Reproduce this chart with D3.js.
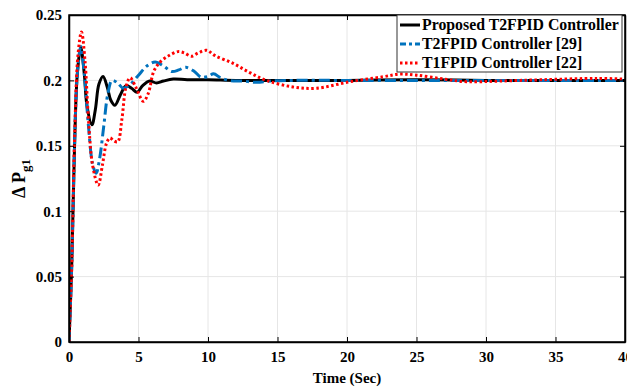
<!DOCTYPE html>
<html><head><meta charset="utf-8">
<script src="https://cdn.jsdelivr.net/npm/d3@7/dist/d3.min.js"></script>
<style>body{margin:0;background:#fff}svg{display:block}</style>
</head><body><svg id="c" width="627" height="387"></svg>
<script>
const xTicks=[0,5,10,15,20,25,30,35,40];
const yTicks=[0,0.05,0.1,0.15,0.2,0.25];
const yTickLabels=["0","0.05","0.1","0.15","0.2","0.25"];
const seriesNames=["Proposed T2FPID Controller","T2FPID Controller [29]","T1FPID Controller [22]"];
const proposedT=[0,0.2,0.4,0.6,0.85,1.1,1.3,1.65,1.9,2.15,2.45,2.75,3.0,3.3,3.7,4.1,4.5,4.9,5.3,5.8,6.3,6.8,7.5,8.5,10,12,15,20,25,30,35,40];
const proposedV=[0,0.06,0.15,0.205,0.225,0.205,0.18,0.166,0.178,0.197,0.203,0.195,0.185,0.181,0.189,0.196,0.194,0.191,0.196,0.1995,0.198,0.1995,0.201,0.2005,0.2005,0.2,0.2,0.2,0.2005,0.2,0.2,0.2];
const t2T=[0,0.2,0.4,0.6,0.85,1.1,1.4,1.7,1.95,2.2,2.5,2.8,3.1,3.5,3.9,4.4,5.0,5.6,6.2,6.8,7.4,7.9,8.4,9.0,9.5,10.0,10.4,10.9,11.5,12.5,13.5,14.5,16,20,25,30,35,40];
const t2V=[0,0.06,0.15,0.205,0.226,0.205,0.165,0.136,0.129,0.14,0.165,0.19,0.2,0.198,0.194,0.197,0.204,0.211,0.214,0.211,0.2068,0.208,0.21,0.207,0.2025,0.203,0.205,0.202,0.2,0.1995,0.1985,0.1995,0.2,0.2,0.2,0.2,0.2,0.2];
const t1T=[0,0.2,0.4,0.65,0.9,1.15,1.4,1.7,2.1,2.4,2.7,2.95,3.2,3.5,3.8,4.1,4.4,4.8,5.35,5.7,6.1,6.55,7.2,7.85,8.3,8.8,9.3,9.9,10.5,11.8,13,14.2,16.1,17.8,20.2,22.6,23.8,25,27,28.6,31,34,38,40];
const t1V=[0,0.06,0.155,0.22,0.237,0.215,0.17,0.135,0.12,0.135,0.152,0.156,0.154,0.153,0.17,0.195,0.202,0.195,0.184,0.19,0.207,0.214,0.219,0.222,0.221,0.2185,0.221,0.223,0.219,0.213,0.206,0.2,0.195,0.194,0.199,0.2028,0.2048,0.204,0.201,0.199,0.1995,0.2005,0.2015,0.201];

const FONT='"Liberation Serif", "Times New Roman", Times, serif';
const svg=d3.select("#c");
const L=69,R=625,T=15,B=342;
const x=d3.scaleLinear().domain([0,40]).range([L,R]);
const y=d3.scaleLinear().domain([0,0.25]).range([B,T]);
// grid
svg.append("g").selectAll("line").data(xTicks).join("line")
 .attr("x1",d=>x(d)).attr("x2",d=>x(d)).attr("y1",T).attr("y2",B).attr("stroke","#e6e6e6").attr("stroke-width",1);
svg.append("g").selectAll("line").data(yTicks).join("line")
 .attr("y1",d=>y(d)).attr("y2",d=>y(d)).attr("x1",L).attr("x2",R).attr("stroke","#e6e6e6").attr("stroke-width",1);
// lines
svg.append("clipPath").attr("id","cp").append("rect").attr("x",L).attr("y",T-5).attr("width",R-L).attr("height",B-T+5);
const line=d3.line().x(d=>x(d[0])).y(d=>y(d[1])).curve(d3.curveCatmullRom.alpha(0.5));
const zip=(a,b)=>a.map((v,i)=>[v,b[i]]);
const styles=[{c:"#000000",d:null},{c:"#0072BD",d:"11,4,3,4"},{c:"#FF0000",d:"2.5,2.5"}];
const data=[zip(proposedT,proposedV),zip(t2T,t2V),zip(t1T,t1V)];
const g=svg.append("g").attr("clip-path","url(#cp)");
[0,1,2].forEach(i=>{
 g.append("path").attr("d",line(data[i])).attr("fill","none").attr("stroke",styles[i].c).attr("stroke-width",3)
  .attr("stroke-dasharray",styles[i].d);
});
// box & ticks
svg.append("rect").attr("x",L).attr("y",T).attr("width",R-L).attr("height",B-T).attr("fill","none").attr("stroke","#000").attr("stroke-width",1.5);
const axB=d3.axisBottom(x).tickValues(xTicks).tickSizeInner(-5).tickSizeOuter(0).tickPadding(9);
svg.append("g").attr("transform",`translate(0,${B})`).call(axB);
const axL=d3.axisLeft(y).tickValues(yTicks).tickFormat((d,i)=>yTickLabels[i]).tickSizeInner(-5).tickSizeOuter(0).tickPadding(7);
svg.append("g").attr("transform",`translate(${L},0)`).call(axL);
const axT=d3.axisTop(x).tickValues(xTicks).tickSizeInner(-5).tickSizeOuter(0).tickFormat("");
svg.append("g").attr("transform",`translate(0,${T})`).call(axT);
const axR=d3.axisRight(y).tickValues(yTicks).tickSizeInner(-5).tickSizeOuter(0).tickFormat("");
svg.append("g").attr("transform",`translate(${R},0)`).call(axR);
svg.selectAll(".domain").attr("stroke","#000").attr("stroke-width",1.5);
svg.selectAll(".tick line").attr("stroke","#000");
svg.selectAll(".tick text").style("font-size","15px").style("font-family",FONT).style("font-weight","bold").attr("fill","#000");
// labels
svg.append("text").attr("x",(L+R)/2).attr("y",383).attr("text-anchor","middle")
 .style("font-family",FONT).style("font-weight","bold").style("font-size","15px").text("Time (Sec)");
const yl=svg.append("text").attr("transform",`translate(25,${(T+B)/2}) rotate(-90)`).attr("text-anchor","middle")
 .style("font-family",FONT).style("font-weight","bold").style("font-size","18px");
yl.append("tspan").text("Δ P");
yl.append("tspan").style("font-size","13px").attr("dy",5).text("g1");
// legend
const lg=svg.append("g");
lg.append("rect").attr("x",397).attr("y",15).attr("width",225).attr("height",57).attr("fill","#fff").attr("stroke","#333").attr("stroke-width",1);
const rows=[25,44,63];
const texts=[];
seriesNames.forEach((n,i)=>{
 lg.append("line").attr("x1",400).attr("x2",420).attr("y1",rows[i]).attr("y2",rows[i]).attr("stroke",styles[i].c).attr("stroke-width",3).attr("stroke-dasharray",i==1?"6,3,3,3":styles[i].d);
 texts.push(lg.append("text").attr("x",422).attr("y",rows[i]+5)
  .style("font-family",FONT).style("font-weight","bold").style("font-size","14px").text(n));
});
const w0=texts[0].node().getComputedTextLength();
const fs=Math.min(17,Math.max(11,14*197/w0));
texts.forEach(t=>t.style("font-size",fs+"px"));
</script></body></html>
